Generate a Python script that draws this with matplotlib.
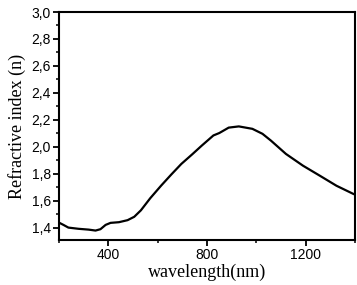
import matplotlib.pyplot as plt
from matplotlib.ticker import MultipleLocator, FuncFormatter

# wavelength (nm) and refractive index
wavelength = [204, 218, 238, 279, 320, 348, 368, 389, 409, 443, 478, 505,
              532, 570, 614, 655, 696, 740, 779, 826, 850, 888, 929, 984, 1025,
              1059, 1120, 1189, 1257, 1325, 1394, 1414]
n_index = [1.435, 1.422, 1.402, 1.393, 1.387, 1.380, 1.390, 1.422, 1.437,
           1.442, 1.457, 1.482, 1.530, 1.620, 1.713, 1.795, 1.874, 1.945,
           2.010, 2.085, 2.103, 2.143, 2.152, 2.134, 2.097, 2.047, 1.948,
           1.861, 1.787, 1.712, 1.651, 1.638]

plt.rcParams['font.family'] = 'Liberation Sans'

fig = plt.figure(figsize=(3.57, 2.85), dpi=100)
ax = fig.add_axes([59 / 357, 45 / 285, 296 / 357, 228 / 285])

ax.plot(wavelength, n_index, color='black', lw=1.6, solid_joinstyle='round')

ax.set_xlim(200, 1400)
ax.set_ylim(1.31, 3.0)
ax.xaxis.set_major_locator(MultipleLocator(400))
ax.xaxis.set_minor_locator(MultipleLocator(200))
ax.yaxis.set_major_locator(MultipleLocator(0.2))
ax.yaxis.set_minor_locator(MultipleLocator(0.1))
ax.yaxis.set_major_formatter(FuncFormatter(lambda v, p: f'{v:.1f}'.replace('.', ',')))
ax.xaxis.set_major_formatter(FuncFormatter(lambda v, p: f'{v:.0f}'))

ax.tick_params(which='major', direction='out', length=4, width=1.3, labelsize=10, pad=2)
ax.tick_params(which='minor', direction='out', length=2.5, width=1.1)
for s in ax.spines.values():
    s.set_linewidth(1.5)

ax.set_xlabel('wavelength(nm)', family='Liberation Serif', fontsize=13, labelpad=1)
ax.set_ylabel('Refractive index (n)', family='Liberation Serif', fontsize=13, labelpad=4)

fig.savefig('out.png')
